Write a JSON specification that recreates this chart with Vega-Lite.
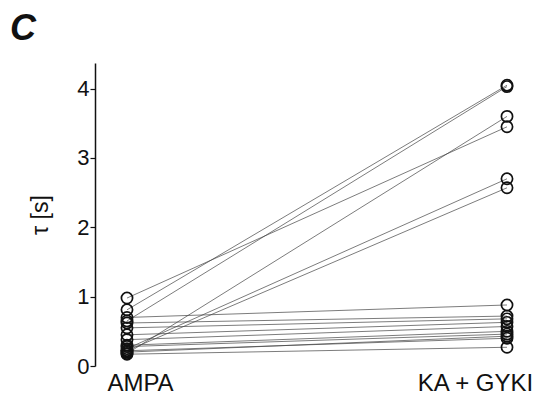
{
  "$schema": "https://vega.github.io/schema/vega-lite/v6.json",
  "autosize": {"type": "none"},
  "padding": {"left": 95, "top": 63, "right": 3, "bottom": 32},
  "width": 444,
  "height": 303,
  "background": "white",
  "title": {
    "text": "C",
    "anchor": "start",
    "frame": "group",
    "dx": -85,
    "dy": 10,
    "offset": 25,
    "font": "Liberation Sans",
    "fontSize": 36,
    "fontWeight": "bold",
    "fontStyle": "italic",
    "color": "#111"
  },
  "data": {
    "values": [
      {"id": 1, "cond": "AMPA", "tau": 0.98}, {"id": 1, "cond": "KA + GYKI", "tau": 3.45},
      {"id": 2, "cond": "AMPA", "tau": 0.81}, {"id": 2, "cond": "KA + GYKI", "tau": 4.05},
      {"id": 3, "cond": "AMPA", "tau": 0.65}, {"id": 3, "cond": "KA + GYKI", "tau": 4.03},
      {"id": 4, "cond": "AMPA", "tau": 0.18}, {"id": 4, "cond": "KA + GYKI", "tau": 3.6},
      {"id": 5, "cond": "AMPA", "tau": 0.25}, {"id": 5, "cond": "KA + GYKI", "tau": 2.7},
      {"id": 6, "cond": "AMPA", "tau": 0.22}, {"id": 6, "cond": "KA + GYKI", "tau": 2.57},
      {"id": 7, "cond": "AMPA", "tau": 0.7}, {"id": 7, "cond": "KA + GYKI", "tau": 0.88},
      {"id": 8, "cond": "AMPA", "tau": 0.62}, {"id": 8, "cond": "KA + GYKI", "tau": 0.72},
      {"id": 9, "cond": "AMPA", "tau": 0.55}, {"id": 9, "cond": "KA + GYKI", "tau": 0.68},
      {"id": 10, "cond": "AMPA", "tau": 0.45}, {"id": 10, "cond": "KA + GYKI", "tau": 0.63},
      {"id": 11, "cond": "AMPA", "tau": 0.38}, {"id": 11, "cond": "KA + GYKI", "tau": 0.57},
      {"id": 12, "cond": "AMPA", "tau": 0.3}, {"id": 12, "cond": "KA + GYKI", "tau": 0.5},
      {"id": 13, "cond": "AMPA", "tau": 0.28}, {"id": 13, "cond": "KA + GYKI", "tau": 0.46},
      {"id": 14, "cond": "AMPA", "tau": 0.2}, {"id": 14, "cond": "KA + GYKI", "tau": 0.43},
      {"id": 15, "cond": "AMPA", "tau": 0.22}, {"id": 15, "cond": "KA + GYKI", "tau": 0.4},
      {"id": 16, "cond": "AMPA", "tau": 0.17}, {"id": 16, "cond": "KA + GYKI", "tau": 0.27}
    ]
  },
  "encoding": {
    "x": {
      "field": "cond",
      "type": "nominal",
      "sort": ["AMPA", "KA + GYKI"],
      "scale": {"type": "point", "padding": 0.0842},
      "axis": {
        "title": null,
        "domain": false,
        "ticks": false,
        "labelAngle": 0,
        "labelFont": "Liberation Sans",
        "labelFontSize": 24,
        "labelColor": "#111",
        "labelPadding": 5,
        "labelOffset": {"condition": {"test": "datum.value === 'AMPA'", "value": 13}, "value": -32}
      }
    },
    "y": {
      "field": "tau",
      "type": "quantitative",
      "scale": {"domain": [0, 4.37], "nice": false, "zero": true},
      "axis": {
        "title": "τ [s]",
        "values": [0, 1, 2, 3, 4],
        "grid": false,
        "domainColor": "#111",
        "domainWidth": 1.5,
        "tickColor": "#111",
        "tickSize": 5,
        "tickWidth": 1.2,
        "labelFont": "Liberation Sans",
        "labelFontSize": 22,
        "labelColor": "#111",
        "labelPadding": 1,
        "titleFont": "Liberation Sans",
        "titleFontSize": 23,
        "titleFontWeight": "normal",
        "titleColor": "#111",
        "titlePadding": 24
      }
    }
  },
  "layer": [
    {
      "mark": {"type": "line", "color": "#444", "strokeWidth": 0.7},
      "encoding": {"detail": {"field": "id", "type": "nominal"}}
    },
    {
      "mark": {"type": "point", "shape": "circle", "filled": false, "fill": "white", "fillOpacity": 0, "stroke": "#111", "strokeWidth": 1.7, "size": 125, "opacity": 1}
    }
  ],
  "config": {"view": {"stroke": null}}
}
